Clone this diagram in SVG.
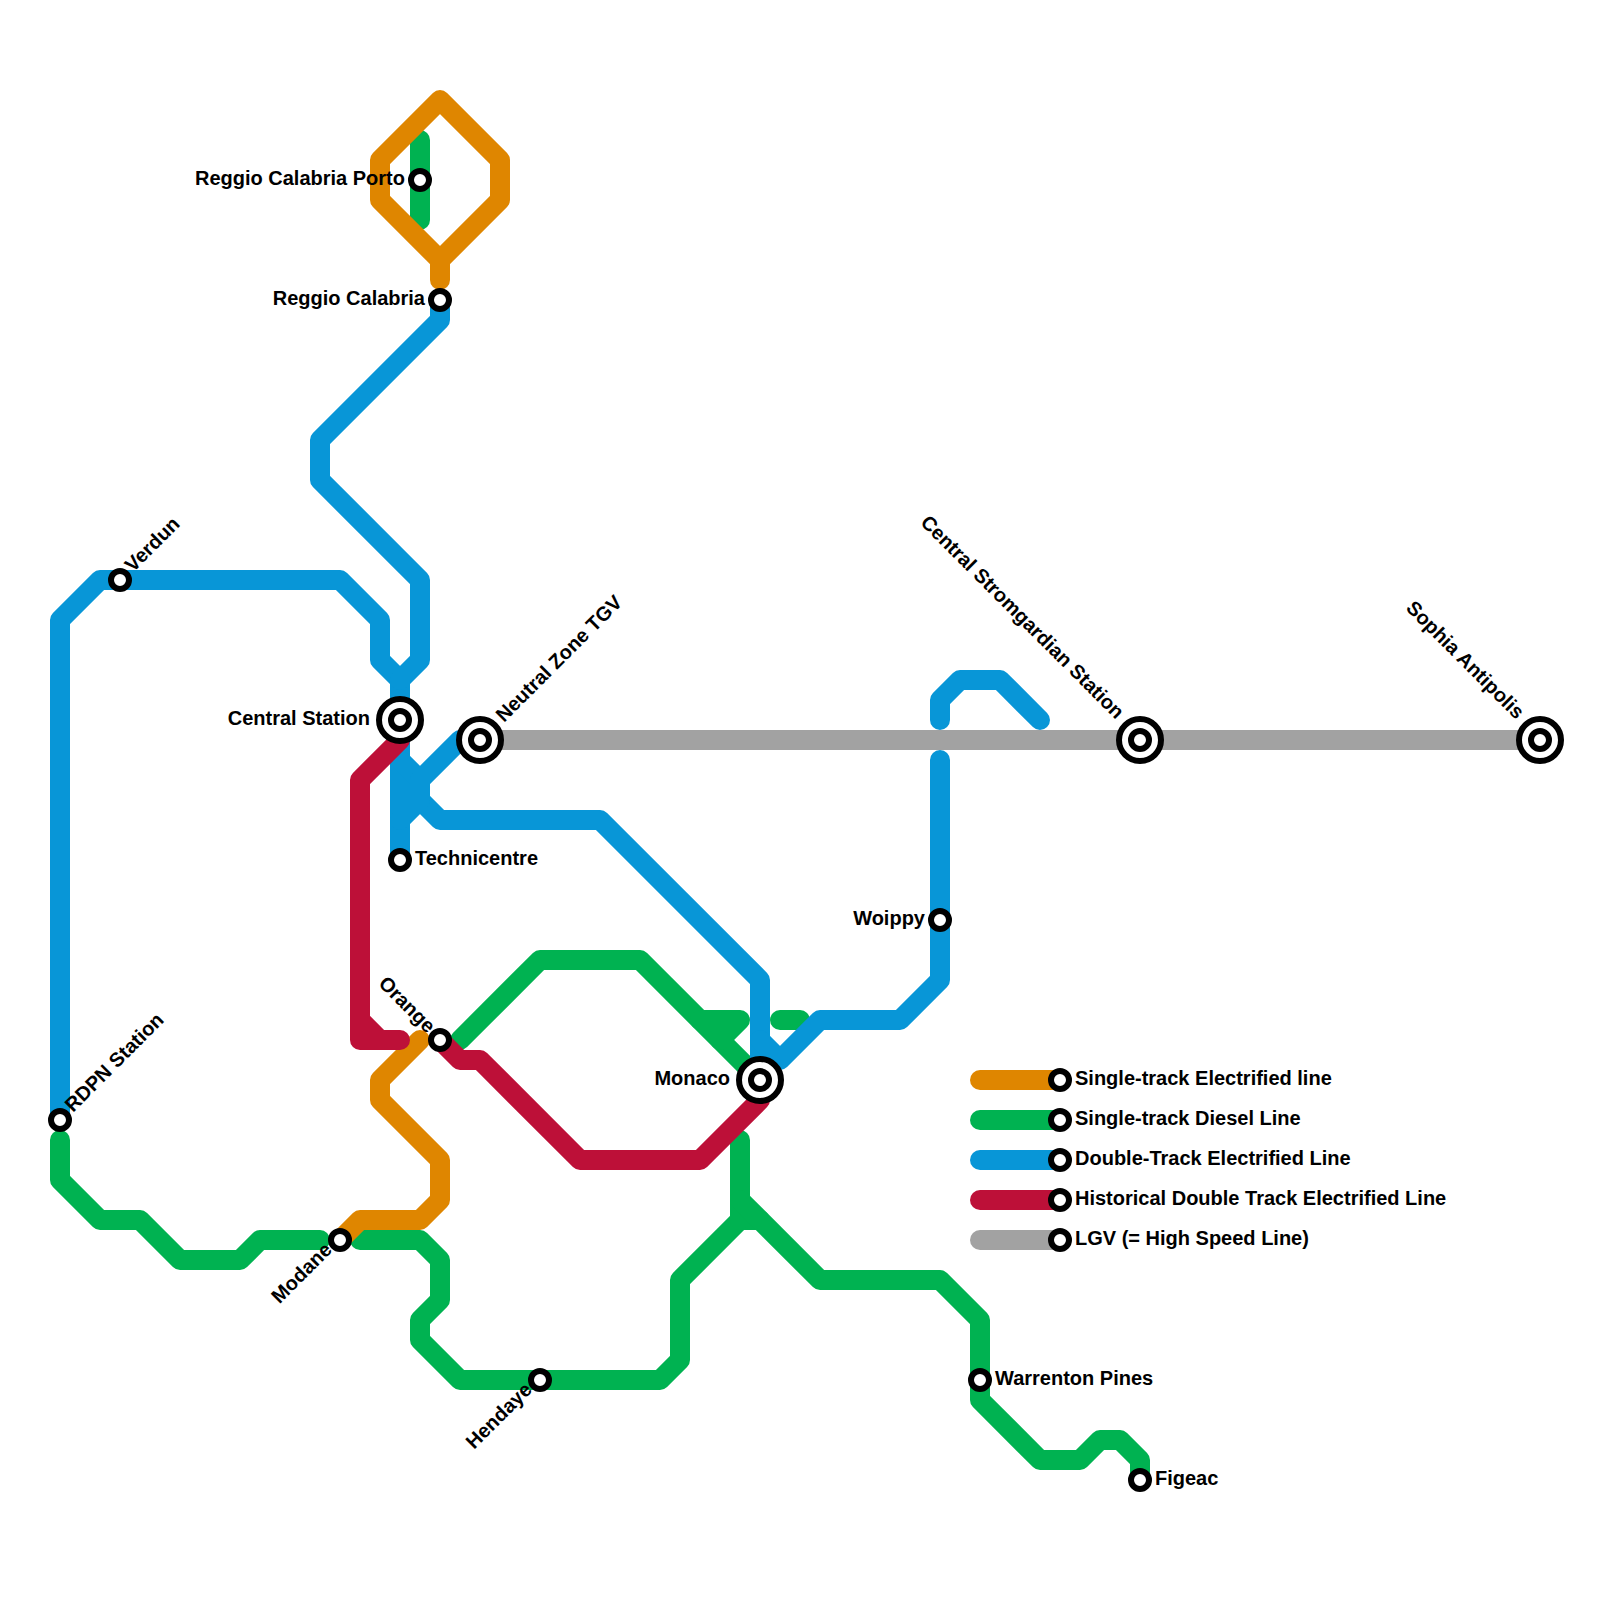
<svg xmlns="http://www.w3.org/2000/svg" width="1600" height="1600" viewBox="0 0 1600 1600">
<style>
.l{fill:none;stroke-width:20;stroke-linecap:round;stroke-linejoin:round}
.o{stroke:#df8600}.g{stroke:#00b251}.b{stroke:#0896d7}.r{stroke:#bd1038}.y{stroke:#a2a2a2}
.s{fill:#fff;stroke:#000;stroke-width:6}
text{font-family:"Liberation Sans",Arial,sans-serif;font-weight:700;font-size:20px;fill:#000}
.e{text-anchor:end}
</style>
<rect width="1600" height="1600" fill="#fff"/>
<defs>
<g id="st"><circle class="s" r="9"/></g>
<g id="ic"><circle class="s" r="21"/><circle class="s" r="9"/></g>
</defs>
<g id="connectors">
<path class="l g" d="M420 140V220"/>
<path class="l g" d="M460 1040L540 960H640L760 1080"/>
<path class="l g" d="M700 1020H740L720 1040"/>
<path class="l g" d="M780 1020H800"/>
<path class="l g" d="M60 1140V1180L100 1220H140L180 1260H240L260 1240H320"/>
<path class="l g" d="M360 1240H420L440 1260V1300L420 1320V1340L460 1380H660L680 1360V1280L740 1220H760"/>
<path class="l g" d="M740 1140V1220"/>
<path class="l g" d="M740 1200L820 1280H940L980 1320V1400L1040 1460H1080L1100 1440H1120L1140 1460V1480"/>
<path class="l o" d="M440 280V260L380 200V160L440 100L500 160V200L440 260"/>
<path class="l o" d="M420 1040L380 1080V1100L440 1160V1200L420 1220H360L340 1240"/>
<path class="l b" d="M60 1120V620L100 580H340L380 620V660L400 680V720"/>
<path class="l b" d="M440 300V320L320 440V480L420 580V660L400 680"/>
<path class="l b" d="M400 720V860"/>
<path class="l b" d="M400 760L420 780V800L440 820H600L760 980V1080"/>
<path class="l b" d="M480 740H460L420 780V800L400 820"/>
<path class="l b" d="M940 720V700L960 680H1000L1040 720"/>
<path class="l b" d="M940 760V980L900 1020H820L780 1060L760 1040"/>
<path class="l r" d="M400 740L360 780V1040H400M360 1020L380 1040"/>
<path class="l r" d="M440 1040L460 1060H480L580 1160H700L760 1100V1080"/>
<path class="l y" d="M480 740H1540"/>
<path class="l o" d="M980 1080H1060"/>
<path class="l g" d="M980 1120H1060"/>
<path class="l b" d="M980 1160H1060"/>
<path class="l r" d="M980 1200H1060"/>
<path class="l y" d="M980 1240H1060"/>
</g>
<g id="reggio-porto"><use href="#st" x="420" y="180"/><text class="e" x="405" y="185">Reggio Calabria Porto</text></g>
<g id="reggio"><use href="#st" x="440" y="300"/><text class="e" x="425" y="305">Reggio Calabria</text></g>
<g id="central"><use href="#ic" x="400" y="720"/><text class="e" x="370" y="725">Central Station</text></g>
<g id="neutral"><use href="#ic" x="480" y="740"/><text transform="translate(504 723) rotate(-45)">Neutral Zone TGV</text></g>
<g id="technicentre"><use href="#st" x="400" y="860"/><text x="415" y="865">Technicentre</text></g>
<g id="verdun"><use href="#st" x="120" y="580"/><text transform="translate(133 573) rotate(-45)">Verdun</text></g>
<g id="rdpn"><use href="#st" x="60" y="1120"/><text transform="translate(73 1113) rotate(-45)">RDPN Station</text></g>
<g id="woippy"><use href="#st" x="940" y="920"/><text class="e" x="925" y="925">Woippy</text></g>
<g id="monaco"><use href="#ic" x="760" y="1080"/><text class="e" x="730" y="1085">Monaco</text></g>
<g id="orange"><use href="#st" x="440" y="1040"/><text class="e" transform="translate(427 1034) rotate(45)">Orange</text></g>
<g id="modane"><use href="#st" x="340" y="1240"/><text class="e" transform="translate(333 1251) rotate(-45)">Modane</text></g>
<g id="hendaye"><use href="#st" x="540" y="1380"/><text class="e" transform="translate(533 1391) rotate(-45)">Hendaye</text></g>
<g id="warrenton"><use href="#st" x="980" y="1380"/><text x="995" y="1385">Warrenton Pines</text></g>
<g id="figeac"><use href="#st" x="1140" y="1480"/><text x="1155" y="1485">Figeac</text></g>
<g id="stromgardian"><use href="#ic" x="1140" y="740"/><text class="e" transform="translate(1116 720) rotate(45)">Central Stromgardian Station</text></g>
<g id="sophia"><use href="#ic" x="1540" y="740"/><text class="e" transform="translate(1516 720) rotate(45)">Sophia Antipolis</text></g>
<g id="legend-1"><use href="#st" x="1060" y="1080"/><text x="1075" y="1085">Single-track Electrified line</text></g>
<g id="legend-2"><use href="#st" x="1060" y="1120"/><text x="1075" y="1125">Single-track Diesel Line</text></g>
<g id="legend-3"><use href="#st" x="1060" y="1160"/><text x="1075" y="1165">Double-Track Electrified Line</text></g>
<g id="legend-4"><use href="#st" x="1060" y="1200"/><text x="1075" y="1205">Historical Double Track Electrified Line</text></g>
<g id="legend-5"><use href="#st" x="1060" y="1240"/><text x="1075" y="1245">LGV (= High Speed Line)</text></g>
</svg>
